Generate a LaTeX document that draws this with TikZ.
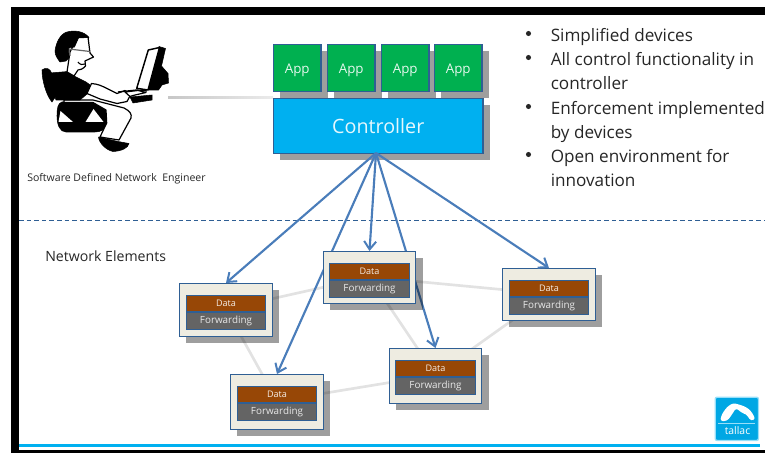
\documentclass[tikz,border=0pt]{standalone}
\usepackage{fontspec}
\setmainfont{Open Sans}
\usetikzlibrary{arrows.meta,shadows}
\definecolor{edgeblue}{HTML}{2F5F94}
\definecolor{arrowblue}{HTML}{4A7DBA}
\definecolor{appgreen}{HTML}{00B050}
\definecolor{ctrlblue}{HTML}{00B0F0}
\definecolor{databrown}{HTML}{974706}
\definecolor{fwdgray}{HTML}{646464}
\definecolor{boxbg}{HTML}{EEECE1}
\definecolor{linkgray}{HTML}{E2E2E2}
\tikzset{
  shad/.style={drop shadow={shadow xshift=5pt,shadow yshift=-5pt,fill=black,opacity=.38}},
  appbox/.style={shad,draw=edgeblue,line width=.9pt,fill=appgreen,text=white!90!appgreen,inner sep=0pt,anchor=north west,minimum width=35.5pt,minimum height=35.2pt,text height=9pt,text depth=1pt,font=\fontsize{10}{12}\selectfont},
  ctrlbox/.style={shad,draw=edgeblue,line width=.9pt,fill=ctrlblue,text=white!90!ctrlblue,inner sep=0pt,anchor=north west,minimum width=157pt,minimum height=41.2pt,font=\fontsize{14.8}{16}\selectfont},
  elembox/.style={shad,draw=edgeblue,line width=.9pt,fill=boxbg,inner sep=0pt,anchor=north,minimum width=69.5pt},
  databox/.style={draw=edgeblue,line width=.8pt,fill=databrown,text=white!90!databrown,inner sep=0pt,anchor=north,minimum width=59.5pt,minimum height=12pt,font=\fontsize{6.8}{7}\selectfont},
  fwdbox/.style={draw=edgeblue,line width=.8pt,fill=fwdgray,text=white!85!fwdgray,inner sep=0pt,anchor=north,minimum width=59.5pt,minimum height=12.5pt,font=\fontsize{7.4}{8}\selectfont},
  netlink/.style={draw=linkgray,line width=2pt},
  ctrlarrow/.style={draw=arrowblue,line width=1.6pt,-{Straight Barb[length=6pt,width=9pt,line width=1.5pt]}},
  bullettext/.style={anchor=base west,inner sep=0pt,text=black!85,font=\fontsize{12.85}{14}\selectfont},
  bulletmark/.style={circle,fill=black!85,inner sep=0pt,minimum size=3.8pt},
  blk/.style={fill=black,draw=black,line join=round},
  wht/.style={fill=white,draw=black,line width=.9pt,line join=round}
}
\newcommand{\nelem}[4]{%
  \node[elembox,minimum height=#4*.75pt] (#1) at (#2,#3) {};
  \node[databox] (#1d) at ([yshift=-9.2pt]#1.north) {Data};
  \node[fwdbox] (#1f) at (#1d.south) {Forwarding};
}
\begin{document}
\begin{tikzpicture}[x=.75pt,y=-.75pt]
\useasboundingbox (0,0) rectangle (765,453);
% frame
\fill[black] (11,7) rectangle (765,15);
\fill[black] (11,7) rectangle (19,453);
\fill[black] (19,450) rectangle (765,453);
\coordinate (bl) at (19,445.5); \coordinate (br) at (760,445.5);
\draw[ctrlblue,line width=1.6pt] (bl) -- (br);
\coordinate (dl) at (19,220); \coordinate (dr) at (765,220);
\draw[edgeblue,line width=.6pt,dash pattern=on 3.5pt off 2.2pt] (dl) -- (dr);
% links
\coordinate (lp) at (226,309);
\coordinate (mp) at (369.5,277);
\coordinate (blp) at (277,401);
\coordinate (brp) at (435.5,375);
\coordinate (rp) at (549,294);
\draw[netlink] (lp) -- (mp);
\draw[netlink] (lp) -- (blp);
\draw[netlink] (mp) -- (brp);
\draw[netlink] (mp) -- (rp);
\draw[netlink] (blp) -- (brp);
\draw[netlink] (brp) -- (rp);
% engineer's link
\coordinate (pc) at (168,96.5);
\coordinate (cl) at (273,99);
\shade[left color=black!22,right color=black!8] (pc) rectangle (cl);
% top
\node[ctrlbox] (ctrl) at (273,98) {Controller};
\node[appbox] (a1) at (273,44) {App};
\node[appbox] (a2) at (327,44) {App};
\node[appbox] (a3) at (381,44) {App};
\node[appbox] (a4) at (434,44) {App};
% arrows hidden by the middle element
\coordinate (arrowsrc) at (376,153);
\path (277,374) coordinate (blt) (435.5,348) coordinate (brt);
\draw[ctrlarrow] (arrowsrc) -- (blt);
\draw[ctrlarrow] (arrowsrc) -- (brt);
% elements
\nelem{ne1}{226}{283}{53}
\nelem{ne3}{277}{374}{55}
\nelem{ne4}{435.5}{348}{55}
\nelem{ne5}{549}{268}{52}
\nelem{ne2}{369.5}{251}{52}
% arrows in front
\draw[ctrlarrow] (arrowsrc) -- (ne1.north);
\draw[ctrlarrow] (arrowsrc) -- (ne2.north);
\draw[ctrlarrow] (arrowsrc) -- (ne5.north);
% texts
\foreach \yy/\tt in {41.5/Simplified devices,65.5/All control functionality in,89.5/controller,114.5/Enforcement implemented,138.5/by devices,162.5/Open environment for,186.5/innovation}
  \node[bullettext] at (550.5,\yy) {\tt};
\foreach \yy in {33.5,57.5,106.5,154.5}
  \node[bulletmark] at (528.5,\yy) {};
\node[anchor=base west,inner sep=0pt,font=\fontsize{10.6}{12}\selectfont,text=black!85] (ne) at (45,261) {Network Elements};
\node[anchor=base west,inner sep=0pt,font=\fontsize{7.9}{9}\selectfont,text=black!85] (sdn) at (27,181) {Software Defined Network\ \ Engineer};
% engineer
% chair back
\draw[blk] (42,70) .. controls (46,67) and (50,68) .. (52,74) -- (56,96) -- (52,102) .. controls (46,95) and (42,80) .. (42,70) -- cycle;
% seat
\draw[blk] (62,102) -- (92,102) .. controls (100,102) and (107,105) .. (107,112) -- (107,123) .. controls (106,130) and (100,132) .. (95,132) -- (66,132) .. controls (60,132) and (57,125) .. (57,116) .. controls (57,108) and (58,103) .. (62,102) -- cycle;
\fill[white] (60.5,111) -- (73,122) -- (58.5,122) -- cycle;
\fill[white] (93.5,109) -- (103.5,122) -- (85.5,122) -- cycle;
% leg
\draw[wht] (64,100) -- (93,100) -- (124,108) .. controls (130,111) and (132,114) .. (131,118) -- (119,140) -- (100,137) -- (106.7,123) -- (106,110) -- (93,102.5) -- (64,102.5) -- cycle;
% shoe
\draw[blk] (98.5,137) -- (118,141.5) -- (129,143.5) .. controls (128,148) and (122,151) .. (113,151.5) .. controls (106,150) and (99,143) .. (98.5,137) -- cycle;
% torso
\draw[blk] (50,73) -- (68,71.5) -- (74,76) -- (86,82) -- (91.5,86) -- (87,94) -- (80,100) -- (56,100) .. controls (53,90) and (50,80) .. (50,73) -- cycle;
% arm
\draw[wht] (91.5,83.5) .. controls (98,84) and (102,86) .. (107,88.5) -- (117,93.5) -- (125,90.5) -- (130,96) -- (127,101.5) -- (117,103.5) -- (100,99) -- (87,93.5) -- cycle;
% face
\draw[wht] (70,52) -- (78,37) -- (88,37) -- (90,53) -- (93.5,57) -- (85,61) -- (85.5,66) .. controls (83,69) and (80,70) .. (78,70) -- (74,76) -- (67,72) -- cycle;
\draw[black!60,line width=.9pt] (69,49) -- (90,51.5);
\draw[black!60,line width=.9pt] (69,49) -- (70,56);
\draw[black,line width=.8pt] (78,62) .. controls (80,65) and (83,65) .. (85,64);
% hair
\draw[blk] (55,51) .. controls (56,43) and (60,34) .. (67,32) .. controls (74,30) and (84,31) .. (89,37.5) -- (78.5,38) -- (74.5,47) -- (68.5,48) -- (69,58) -- (66,61) -- (60,62) .. controls (57,58) and (55,55) .. (55,51) -- cycle;
% monitor
\draw[blk] (159,46.5) -- (165.5,48.5) -- (161.5,66) -- (168,73.5) -- (168.5,83) -- (162,85) -- (158.5,90) -- (148,90) -- cycle;
\draw[wht,line width=1.1pt] (148.3,50) -- (159.5,47.5) -- (148,90) -- (136.7,88.3) -- cycle;
% hand and keyboard
\draw[black,line width=1pt] (118,92) -- (136.7,90) -- (147,91);
\draw[wht,line width=.9pt] (125,92) -- (138,90.5) -- (146,92.5) -- (133,95.5) -- (130,96.5) -- cycle;
\draw[blk] (130,97) -- (152,95) -- (152,100) -- (133,103) -- cycle;
% tallac logo
\node[draw=ctrlblue!40,line width=1pt,fill=ctrlblue!95!black,inner sep=0pt,minimum size=32.5pt,rounded corners=1.5pt,anchor=north west] (logo) at (714.5,396.5) {};
\fill[white,rounded corners=2pt] (720,421) -- (722,414) -- (727,407) -- (733,403) -- (739,404.5) -- (746,407) -- (751,411) -- (755.5,419) -- (751,421) -- (746,414) -- (742,413) -- (736,408) -- (731,416) -- (727,421) -- cycle;
\draw[white!60!ctrlblue,line width=.5pt] (718,423) -- (755,423);
\node[text=white,inner sep=0pt,font=\fontsize{7.8}{8}\selectfont] (tl) at (737.5,430.5) {tallac};
\end{tikzpicture}
\end{document}
